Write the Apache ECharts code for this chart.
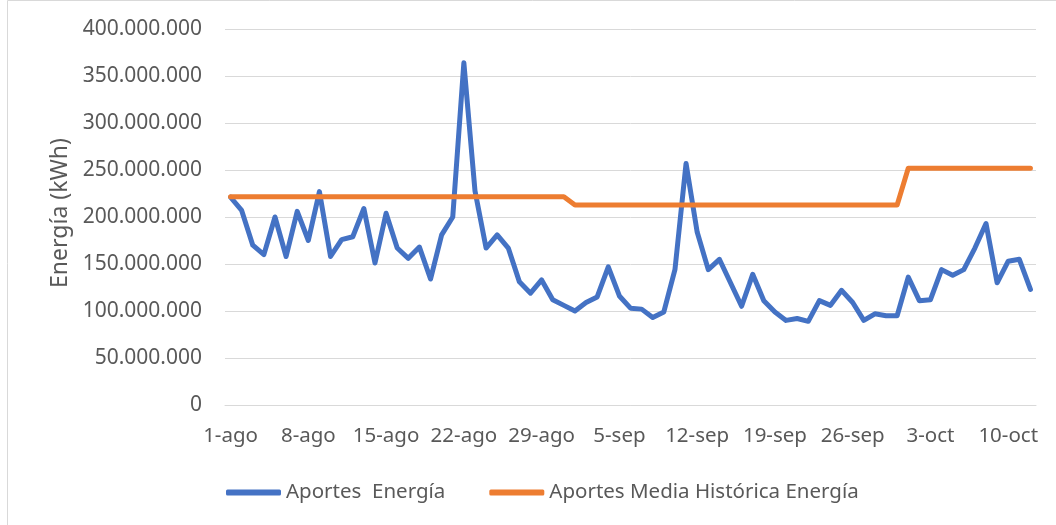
<!DOCTYPE html>
<html>
<head>
<meta charset="utf-8">
<script src="https://cdn.jsdelivr.net/npm/echarts@6/dist/echarts.min.js"></script>
<style>
    html, body { margin: 0; padding: 0; background: #fff; }
    #chart { width: 1056px; height: 525px; }
</style>
</head>
<body>
<div id="chart"></div>
<script>
// etiquetas de eje (dias 1-ago .. 12-oct)
var meses = ['ago', 'sep', 'oct'];
var diasMes = [31, 30, 12];
var categorias = [];
for (var m = 0; m < meses.length; m++) {
    for (var d = 1; d <= diasMes[m]; d++) {
        categorias.push(d + '-' + meses[m]);
    }
}

// valores en millones de kWh
var aportesEnergia = [
    221, 207, 170, 160, 200, 158, 206, 175, 227, 158,
    176, 179, 209, 151, 204, 167, 156, 168, 134, 181,
    200, 364, 228, 167, 181, 167, 131, 119, 133, 112,
    106, 100, 109, 115, 147, 116, 103, 102, 93, 99,
    144, 257, 184, 144, 155, 130, 105, 139, 111, 99,
    90, 92, 89, 111, 106, 122, 109, 90, 97, 95,
    95, 136, 111, 112, 144, 138, 144, 167, 193, 130,
    153, 155, 123
];
var mediaHistorica = [];
var tramosMedia = [[31, 221.6], [30, 212.8], [12, 251.8]]; // [dias, valor]
for (var t = 0; t < tramosMedia.length; t++) {
    for (var k = 0; k < tramosMedia[t][0]; k++) mediaHistorica.push(tramosMedia[t][1]);
}

var ticksY = [0, 50, 100, 150, 200, 250, 300, 350, 400]; // millones

function formatoPuntos(v) {
    return String(Math.round(v)).replace(/\B(?=(\d{3})+(?!\d))/g, '.');
}
function aKwh(arr) {
    return arr.map(function (v) { return v * 1000000; });
}

var fuente = '"Noto Sans", "DejaVu Sans", sans-serif';
var gris = '#595959';

var option = {
    animation: false,
    textStyle: { fontFamily: fuente },
    graphic: [{
        type: 'rect',
        shape: { x: 7.5, y: 0.5, width: 1100, height: 600 },
        style: { fill: 'none', stroke: '#d9d9d9', lineWidth: 1 },
        silent: true
    }],
    grid: { left: 225, right: 20, top: 29, bottom: 120 },
    legend: {
        left: 221,
        top: 477,
        itemWidth: 55,
        itemHeight: 6,
        itemGap: 44,
        icon: 'roundRect',
        textStyle: { color: gris, fontSize: 20.5, fontFamily: fuente },
        data: ['Aportes  Energía', 'Aportes Media Histórica Energía']
    },
    xAxis: {
        type: 'category',
        data: categorias,
        boundaryGap: true,
        axisLine: { show: true, lineStyle: { color: '#d9d9d9', width: 1 } },
        axisTick: { show: false },
        axisLabel: { interval: 6, color: gris, fontSize: 20.5, margin: 21, fontFamily: fuente },
        splitLine: { show: false }
    },
    yAxis: {
        type: 'value',
        min: ticksY[0] * 1000000,
        max: ticksY[ticksY.length - 1] * 1000000,
        interval: 50000000,
        name: 'Energía (kWh)',
        nameLocation: 'middle',
        nameGap: 128,
        nameTextStyle: { color: gris, fontSize: 23, fontFamily: fuente, padding: [0, 0, 0, 8] },
        axisLine: { show: false },
        axisTick: { show: false },
        axisLabel: { color: gris, fontSize: 21, margin: 23, fontFamily: fuente, formatter: formatoPuntos },
        splitLine: { lineStyle: { color: '#d9d9d9', width: 1 } }
    },
    series: [
        {
            name: 'Aportes  Energía',
            type: 'line',
            data: aKwh(aportesEnergia),
            showSymbol: false,
            symbol: 'none',
            itemStyle: { color: '#4472C4' },
            lineStyle: { color: '#4472C4', width: 5, cap: 'round', join: 'round' }
        },
        {
            name: 'Aportes Media Histórica Energía',
            type: 'line',
            data: aKwh(mediaHistorica),
            showSymbol: false,
            symbol: 'none',
            itemStyle: { color: '#ED7D31' },
            lineStyle: { color: '#ED7D31', width: 5, cap: 'round', join: 'round' }
        }
    ]
};

var chart = echarts.init(document.getElementById('chart'), null, { renderer: 'canvas' });
chart.setOption(option);
</script>
</body>
</html>
